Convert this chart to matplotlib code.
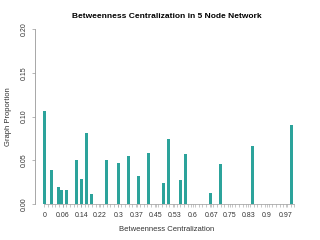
import numpy as np
import matplotlib
matplotlib.use('Agg')
from matplotlib import pyplot as plt

plt.rcParams['font.family'] = ['Liberation Sans', 'DejaVu Sans']

# bar positions (centralization) and heights (proportion of graphs)
centralization = [0.0, 0.030, 0.057, 0.067, 0.089, 0.130, 0.150, 0.168, 0.188,
                  0.248, 0.298, 0.336, 0.376, 0.416, 0.475, 0.495, 0.544, 0.564,
                  0.663, 0.703, 0.832, 0.988]
proportion = [0.106, 0.039, 0.019, 0.016, 0.016, 0.050, 0.029, 0.081, 0.012,
              0.050, 0.047, 0.055, 0.032, 0.058, 0.024, 0.074, 0.028, 0.057,
              0.013, 0.046, 0.066, 0.090]
xtick_labels = ['0', '0.06', '0.14', '0.22', '0.3', '0.37', '0.45', '0.53',
                '0.6', '0.67', '0.75', '0.83', '0.9', '0.97']
ytick_vals = [0.00, 0.05, 0.10, 0.15, 0.20]

fig = plt.figure(figsize=(3.2, 2.4), dpi=100)
W, H = 320, 240
ax = fig.add_axes([35/W, 1-204/H, (298-35)/W, (204-29)/H])

ax.bar(centralization, proportion, width=0.012, color='#2ca39b', linewidth=0)

ax.set_xlim(-0.037, 1.015)
ax.set_ylim(0, 0.2)

for s in ['top', 'right']:
    ax.spines[s].set_visible(False)
ax.spines['left'].set_color('#999999')
ax.spines['left'].set_linewidth(0.6)
ax.spines['bottom'].set_color('#999999')
ax.spines['bottom'].set_linewidth(0.5)
ax.spines['bottom'].set_bounds(0, 1.0)

# labels spaced evenly along the axis like the category labels
label_pos = np.linspace(0, 0.965, len(xtick_labels))
ax.set_xticks(label_pos)
ax.set_xticklabels(xtick_labels, fontsize=5, color='#333333')
ax.set_xticks(np.arange(0, 1.001, 1/68), minor=True)
ax.tick_params(axis='x', which='both', length=2.5, width=0.4, color='#999999', pad=3)

ax.set_yticks(ytick_vals)
ax.set_yticklabels(['%.2f' % v for v in ytick_vals], fontsize=5, color='#333333',
                   rotation=90, va='center')
ax.tick_params(axis='y', length=2.5, width=0.5, color='#999999', pad=3)

ax.set_xlabel('Betweenness Centralization', fontsize=5.5, color='#333333', labelpad=5)
ax.set_ylabel('Graph Proportion', fontsize=5.5, color='#333333', labelpad=6)
ax.set_title('Betweenness Centralization in 5 Node Network', fontsize=6,
             fontweight='bold', pad=8)

fig.savefig('out.png', dpi=100)
